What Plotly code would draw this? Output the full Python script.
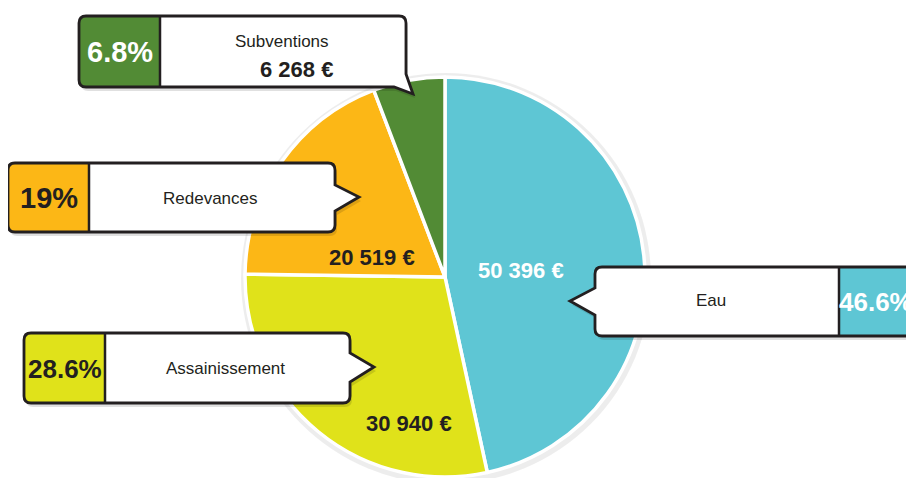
import plotly.graph_objects as go

# --- data ---
labels = ["Eau", "Assainissement", "Redevances", "Subventions"]
values = [50396, 30940, 20519, 6268]
pct_labels = ["46.6%", "28.6%", "19%", "6.8%"]
amount_labels = ["50 396 €", "30 940 €", "20 519 €", "6 268 €"]
colors = ["#5ec6d4", "#e0e21a", "#fcb716", "#528b35"]

# the page body keeps its default 8px margin, so work in window pixels
OFF = 8
W, H = 914 - OFF, 478 - OFF
DARK = "#231f20"
FONT = "Liberation Sans, Arial, sans-serif"


def px(x):
    return (x - OFF) / W


def py(y):
    return 1 - (y - OFF) / H


def rounded_path(pts):
    # pts: list of (x, y, r) in window pixels, r = corner radius
    n = len(pts)
    out = []
    for i, (x, y, r) in enumerate(pts):
        if r == 0:
            seg = [("L", x, y)]
        else:
            ax, ay, _ = pts[i - 1]
            bx, by, _ = pts[(i + 1) % n]
            da = ((x - ax) ** 2 + (y - ay) ** 2) ** 0.5
            db = ((bx - x) ** 2 + (by - y) ** 2) ** 0.5
            p1 = (x - r * (x - ax) / da, y - r * (y - ay) / da)
            p2 = (x + r * (bx - x) / db, y + r * (by - y) / db)
            seg = [("L", p1[0], p1[1]), ("Q", x, y, p2[0], p2[1])]
        for s in seg:
            if s[0] == "L":
                out.append(f"L{px(s[1]):.5f},{py(s[2]):.5f}")
            else:
                out.append(f"Q{px(s[1]):.5f},{py(s[2]):.5f} {px(s[3]):.5f},{py(s[4]):.5f}")
    out[0] = "M" + out[0][1:]
    return " ".join(out) + " Z"


R = 7
callouts = [
    # outline points, colour section box, colour index
    dict(pts=[(79, 16, R), (406, 16, R), (406, 74, 0), (413, 94, 0), (394, 87, 0), (79, 87, R)],
         sec=(79, 160, 16, 87, "left"), ci=3),
    dict(pts=[(8, 163, R), (335, 163, R), (335, 185, 0), (359, 197, 0), (335, 211, 0), (335, 232, R), (8, 232, R)],
         sec=(8, 89, 163, 232, "left"), ci=2),
    dict(pts=[(24, 333, R), (350, 333, R), (350, 353, 0), (374, 367, 0), (350, 382, 0), (350, 403, R), (24, 403, R)],
         sec=(24, 105, 333, 403, "left"), ci=1),
    dict(pts=[(595, 267, R), (922, 267, R), (922, 336, R), (595, 336, R), (595, 315, 0), (570, 301, 0), (595, 288, 0)],
         sec=(839, 922, 267, 336, "right"), ci=0),
]

shapes = []
# soft shadow behind the pie
shapes.append(dict(type="circle", xref="paper", yref="paper", layer="below",
                   x0=px(241), x1=px(651), y0=py(484), y1=py(73),
                   fillcolor="rgba(0,0,0,0.07)", line=dict(width=0)))

for c in callouts:
    shadow = [(x + 2, y + 4, r) for x, y, r in c["pts"]]
    shapes.append(dict(type="path", xref="paper", yref="paper", path=rounded_path(shadow),
                       fillcolor="rgba(0,0,0,0.12)", line=dict(width=0)))
    shapes.append(dict(type="path", xref="paper", yref="paper", path=rounded_path(c["pts"]),
                       fillcolor="white", line=dict(width=0)))
    x0, x1, y0, y1, side = c["sec"]
    if side == "left":
        sp = [(x0, y0, R), (x1, y0, 0), (x1, y1, 0), (x0, y1, R)]
    else:
        sp = [(x0, y0, 0), (x1, y0, R), (x1, y1, R), (x0, y1, 0)]
    shapes.append(dict(type="path", xref="paper", yref="paper", path=rounded_path(sp),
                       fillcolor=colors[c["ci"]], line=dict(width=0)))
    xd = x1 if side == "left" else x0
    shapes.append(dict(type="line", xref="paper", yref="paper", x0=px(xd), x1=px(xd),
                       y0=py(y0), y1=py(y1), line=dict(color=DARK, width=2.5)))
    shapes.append(dict(type="path", xref="paper", yref="paper", path=rounded_path(c["pts"]),
                       fillcolor="rgba(0,0,0,0)", line=dict(color=DARK, width=2.8)))

fig = go.Figure(go.Pie(
    labels=labels, values=values, sort=False, direction="clockwise", rotation=0,
    marker=dict(colors=colors, line=dict(color="white", width=3.5)),
    textinfo="none", hoverinfo="label+value", showlegend=False,
    domain=dict(x=[px(245), px(645)], y=[py(477), py(77)]),
))


def note(x, y, text, size, color=DARK, bold=False):
    t = f"<b>{text}</b>" if bold else text
    return dict(x=px(x), y=py(y), xref="paper", yref="paper", text=t, showarrow=False,
                xanchor="center", yanchor="middle",
                font=dict(family=FONT, size=size, color=color))


annotations = [
    # percentage boxes
    note(119.5, 52, pct_labels[3], 29, "white", True),
    note(48.5, 198, pct_labels[2], 29, DARK, True),
    note(64.5, 369, pct_labels[1], 26, DARK, True),
    note(876, 302, pct_labels[0], 26, "white", True),
    # category names
    note(282, 41, labels[3], 17),
    note(210, 198, labels[2], 17),
    note(225, 368, labels[1], 17),
    note(711, 300, labels[0], 17),
    # amounts
    note(296, 69, amount_labels[3], 22, DARK, True),
    note(521, 270, amount_labels[0], 22, "white", True),
    note(372, 257, amount_labels[2], 22, DARK, True),
    note(409, 423, amount_labels[1], 22, DARK, True),
]

fig.update_layout(
    width=W, height=H, margin=dict(l=0, r=0, t=0, b=0),
    paper_bgcolor="white", plot_bgcolor="white",
    shapes=shapes, annotations=annotations,
)

fig.write_html("out.html")
